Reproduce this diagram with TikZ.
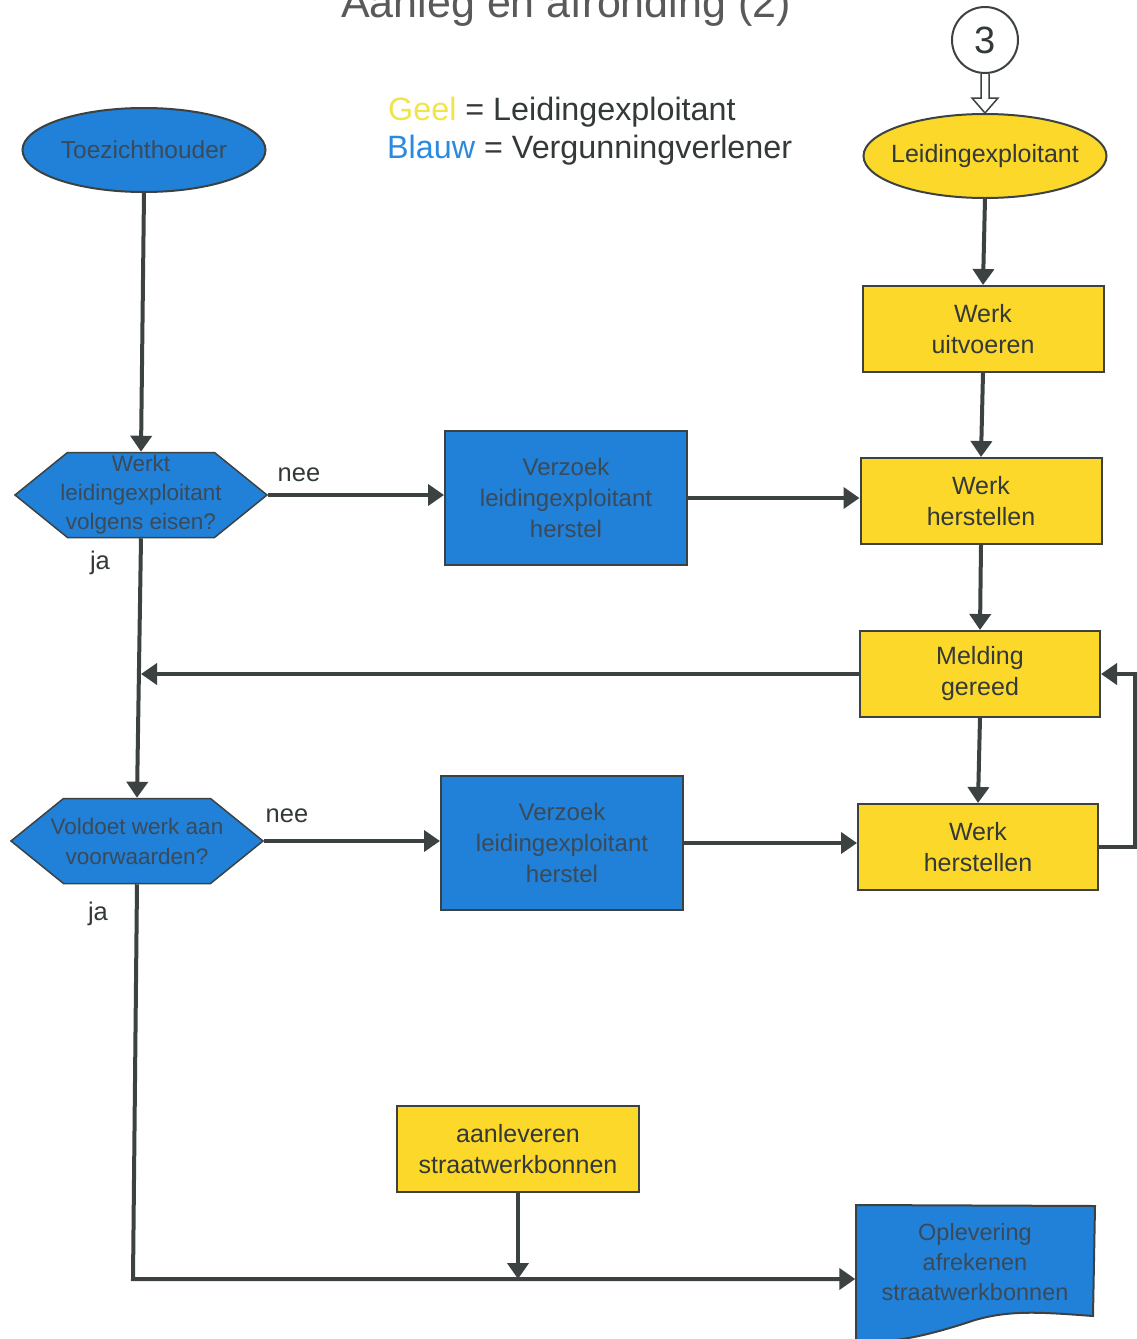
\documentclass[tikz,border=0pt]{standalone}
\usepackage{fontspec}
\setmainfont{Liberation Sans}
\usetikzlibrary{shapes.geometric,shapes.symbols,arrows.meta,calc}
\definecolor{bl}{HTML}{2180D8}
\definecolor{ye}{HTML}{FCD82A}
\definecolor{ln}{HTML}{3C4242}
\definecolor{tx}{HTML}{333838}
\definecolor{btx}{HTML}{3A4A58}
\definecolor{geel}{HTML}{F0E44A}
\definecolor{blauw}{HTML}{2A8AE0}
\begin{document}
\begin{tikzpicture}[x=1pt,y=-1pt,
  ybox/.style={rectangle,draw=ln,line width=2pt,fill=ye,minimum width=241pt,minimum height=86pt,inner sep=0pt,
    text=tx,align=center,font=\fontsize{25}{31}\selectfont},
  bbox/.style={rectangle,draw=ln,line width=2pt,fill=bl,minimum width=242pt,minimum height=134pt,inner sep=0pt,
    text=btx,align=center,font=\fontsize{24}{31}\selectfont},
  hexa/.style={signal,signal to=west and east,signal pointer angle=78,draw=ln,line width=1.5pt,fill=bl,
    minimum width=252pt,minimum height=85pt,inner sep=0pt},
  hextxt/.style={inner sep=0pt,text=btx,align=center,font=\fontsize{22.5}{29}\selectfont},
  ell/.style={ellipse,draw=ln,line width=2pt,minimum width=243pt,minimum height=84pt,inner sep=0pt},
  elltxt/.style={inner sep=0pt,align=center,font=\fontsize{25}{30}\selectfont},
  arr/.style={draw=ln,line width=4pt,-{Triangle[length=16pt,width=21pt]}},
  lab/.style={text=tx,font=\fontsize{25.5}{30}\selectfont,inner sep=0pt}]
\useasboundingbox (0,0) rectangle (1136,1339);
% title and legend
\node[anchor=base,text=black!65,font=\fontsize{43}{50}\selectfont,inner sep=0pt] (title) at (566,17) {Aanleg en afronding (2)};
\node[anchor=base west,inner sep=0pt,text=tx,font=\fontsize{32.3}{38}\selectfont] (leg1) at (388,120) {\textcolor{geel}{Geel} = Leidingexploitant};
\node[anchor=base west,inner sep=0pt,text=tx,font=\fontsize{32.3}{38}\selectfont] (leg2) at (387,158) {\textcolor{blauw}{Blauw} = Vergunningverlener};
% nodes
\node[ell,fill=bl,label={[elltxt,text=btx,font=\fontsize{24.5}{30}\selectfont]center:Toezichthouder}] (t) at (144,150) {};
\node[circle,draw=ln,line width=2pt,fill=white,minimum size=66pt,inner sep=0pt,text=tx,font=\fontsize{38}{40}\selectfont] (c3) at (985,40) {3};
\node[ell,fill=ye,label={[elltxt,text=tx]center:Leidingexploitant}] (le) at (985,156) {};
\node[ybox] (wu) at (983,329) {Werk\\uitvoeren};
\node[ybox] (wh1) at (981,501) {Werk\\herstellen};
\node[ybox,minimum width=240pt] (mg) at (980,674) {Melding\\gereed};
\node[ybox,minimum width=240pt] (wh2) at (978,847) {Werk\\herstellen};
\node[bbox] (v1) at (566,498) {Verzoek\\leidingexploitant\\herstel};
\node[bbox] (v2) at (562,843) {Verzoek\\leidingexploitant\\herstel};
\node[hexa,label={[hextxt]center:{Werkt\\leidingexploitant\\volgens eisen?}}] (d1) at (141,495) {};
\node[hexa,label={[hextxt,font=\fontsize{22.5}{30}\selectfont]center:{Voldoet werk aan\\voorwaarden?}}] (d2) at (137,841) {};
\node[ybox,minimum width=242pt] (aan) at (518,1149) {aanleveren\\straatwerkbonnen};
% document shape
\fill[bl] (856,1205) -- (1095,1206) -- (1093,1316) .. controls (1040,1312) and (1010,1310) .. (975,1320)
   .. controls (930,1335) and (890,1345) .. (856,1340) -- cycle;
\draw[ln,line width=2pt] (856,1340) -- (856,1205) -- (1095,1206) -- (1093,1316) .. controls (1040,1312) and (1010,1310) .. (975,1320)
   .. controls (930,1335) and (890,1345) .. (856,1340);
\node[rectangle,minimum width=239pt,minimum height=114pt,inner sep=0pt,text=btx,align=center,font=\fontsize{23.5}{30}\selectfont] (opl) at (975,1262) {Oplevering\\afrekenen\\straatwerkbonnen};
% labels
\node[lab] (nee1) at (299,475) {nee};
\node[lab] (ja1) at (100,563) {ja};
\node[lab] (nee2) at (287,816) {nee};
\node[lab] (ja2) at (98,914) {ja};
% hollow arrow from 3
\draw[ln,line width=1.5pt,fill=white] ($(c3.south)+(-4,0)$) -- ($(c3.south)+(-4,24)$) -- ($(c3.south)+(-13,24)$) -- (le.north)
   -- ($(c3.south)+(13,24)$) -- ($(c3.south)+(4,24)$) -- ($(c3.south)+(4,0)$);
% connectors
\draw[arr] (t.south) -- (d1.north);
\draw[arr] (d1.east) -- (v1.west |- d1.east);
\draw[arr] (v1.east) -- (wh1.west |- v1.east);
\draw[arr] (le.south) -- (wu.north);
\draw[arr] (wu.south) -- (wh1.north);
\draw[arr] (wh1.south) -- (mg.north);
\draw[arr] (mg.west) -- (mg.west -| d1.south);
\draw[arr] (d1.south) -- (d2.north);
\draw[arr] (mg.south) -- (wh2.north);
\draw[arr] (wh2.east) -- ++(36,0) |- (mg.east);
\draw[arr] (d2.east) -- (v2.west |- d2.east);
\draw[arr] (v2.east) -- (wh2.west |- v2.east);
\coordinate (c1) at (133,1279);
\draw[arr] (d2.south) -- (c1) -- (c1 -| opl.west);
\draw[arr] (aan.south) -- (aan.south |- c1);
\end{tikzpicture}
\end{document}
